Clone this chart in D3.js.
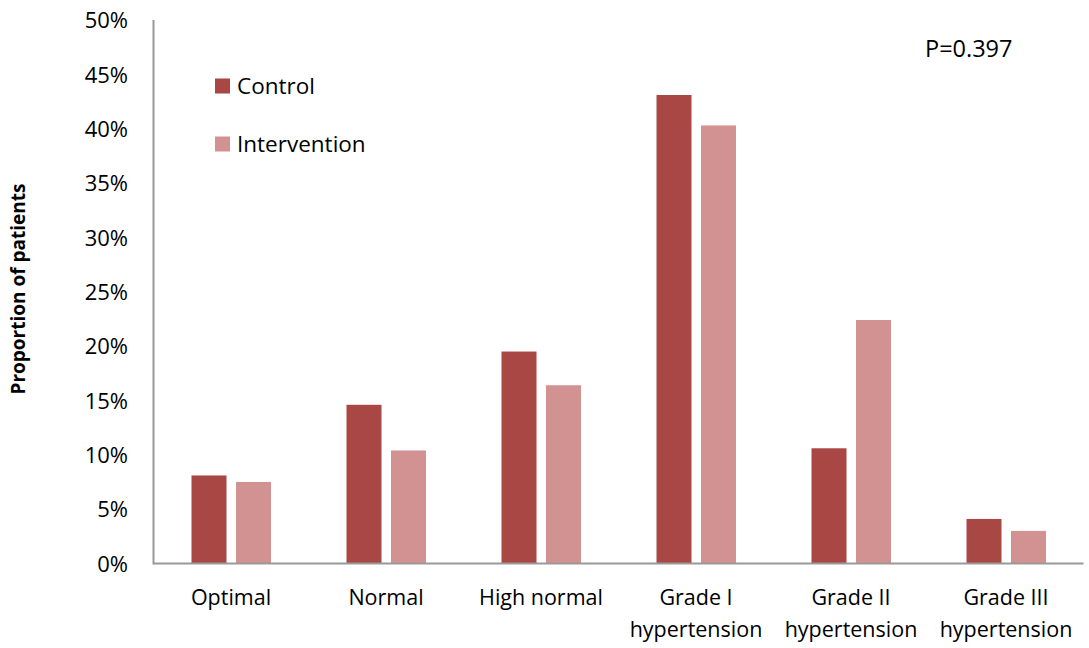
<!DOCTYPE html>
<html><head><meta charset="utf-8">
<script src="https://cdn.jsdelivr.net/npm/d3@7"></script>
<style>body{margin:0;background:#fff}text{font-family:"Open Sans",sans-serif}</style>
</head><body>
<script>
const categories = [["Optimal"],["Normal"],["High normal"],["Grade I","hypertension"],["Grade II","hypertension"],["Grade III","hypertension"]];
const control = [8.1, 14.6, 19.5, 43.1, 10.6, 4.1];
const intervention = [7.5, 10.4, 16.4, 40.3, 22.4, 3.0];
const yTicks = [0,5,10,15,20,25,30,35,40,45,50];
const seriesNames = ["Control","Intervention"];
const colors = ["#A94745","#D29291"];

const W=1089,H=648;
const svg=d3.select("body").append("svg").attr("width",W).attr("height",H);
const x0=153.5, x1=1083.5, yTop=20, yBot=563.5;
const x=d3.scaleBand().domain(d3.range(categories.length)).range([x0,x1]).paddingInner(0).paddingOuter(0);
const y=d3.scaleLinear().domain([0,50]).range([yBot,yTop]);
const inner=d3.scaleBand().domain([0,1]).range([38,117.5]).paddingInner(0.213);

// y tick labels
const yAxis=d3.axisLeft(y).tickValues(yTicks).tickFormat(d=>d+"%").tickSize(0).tickPadding(0);
const ga=svg.append("g").attr("transform",`translate(128,0)`).call(yAxis);
ga.select(".domain").remove();
ga.selectAll("text").attr("font-size",22).attr("fill","#000").attr("font-family","Open Sans, sans-serif").attr("dy","0.35em");

// bars
const series=[control,intervention];
series.forEach((vals,si)=>{
  svg.append("g").selectAll("rect").data(vals).join("rect")
    .attr("x",(d,i)=>x(i)+inner(si)).attr("width",inner.bandwidth())
    .attr("y",d=>y(d)).attr("height",d=>yBot-y(d)).attr("fill",colors[si]);
});

// axes lines
svg.append("line").attr("x1",x0).attr("x2",x0).attr("y1",yTop).attr("y2",yBot+1).attr("stroke","#999").attr("stroke-width",2);
svg.append("line").attr("x1",x0).attr("x2",x1).attr("y1",yBot).attr("y2",yBot).attr("stroke","#999").attr("stroke-width",2);

// x labels
const xl=svg.append("g");
categories.forEach((lines,i)=>{
  const t=xl.append("text").attr("x",x(i)+x.bandwidth()/2).attr("y",605).attr("text-anchor","middle").attr("font-size",21.5).attr("fill","#000");
  lines.forEach((l,j)=>t.append("tspan").attr("x",x(i)+x.bandwidth()/2).attr("dy",j===0?0:32).text(l));
});

// y title
svg.append("text").attr("transform","translate(25,289) rotate(-90)").attr("text-anchor","middle").attr("font-size",19).attr("font-weight","bold").text("Proportion of patients");

// legend
seriesNames.forEach((n,i)=>{
  const ly=86+i*58;
  svg.append("rect").attr("x",215).attr("y",ly-7.5).attr("width",15).attr("height",15).attr("fill",colors[i]);
  svg.append("text").attr("x",237).attr("y",ly).attr("dy","0.35em").attr("font-size",22.5).text(n);
});

svg.append("text").attr("x",925).attr("y",49).attr("dy","0.35em").attr("font-size",23.5).text("P=0.397");
</script>
</body></html>
